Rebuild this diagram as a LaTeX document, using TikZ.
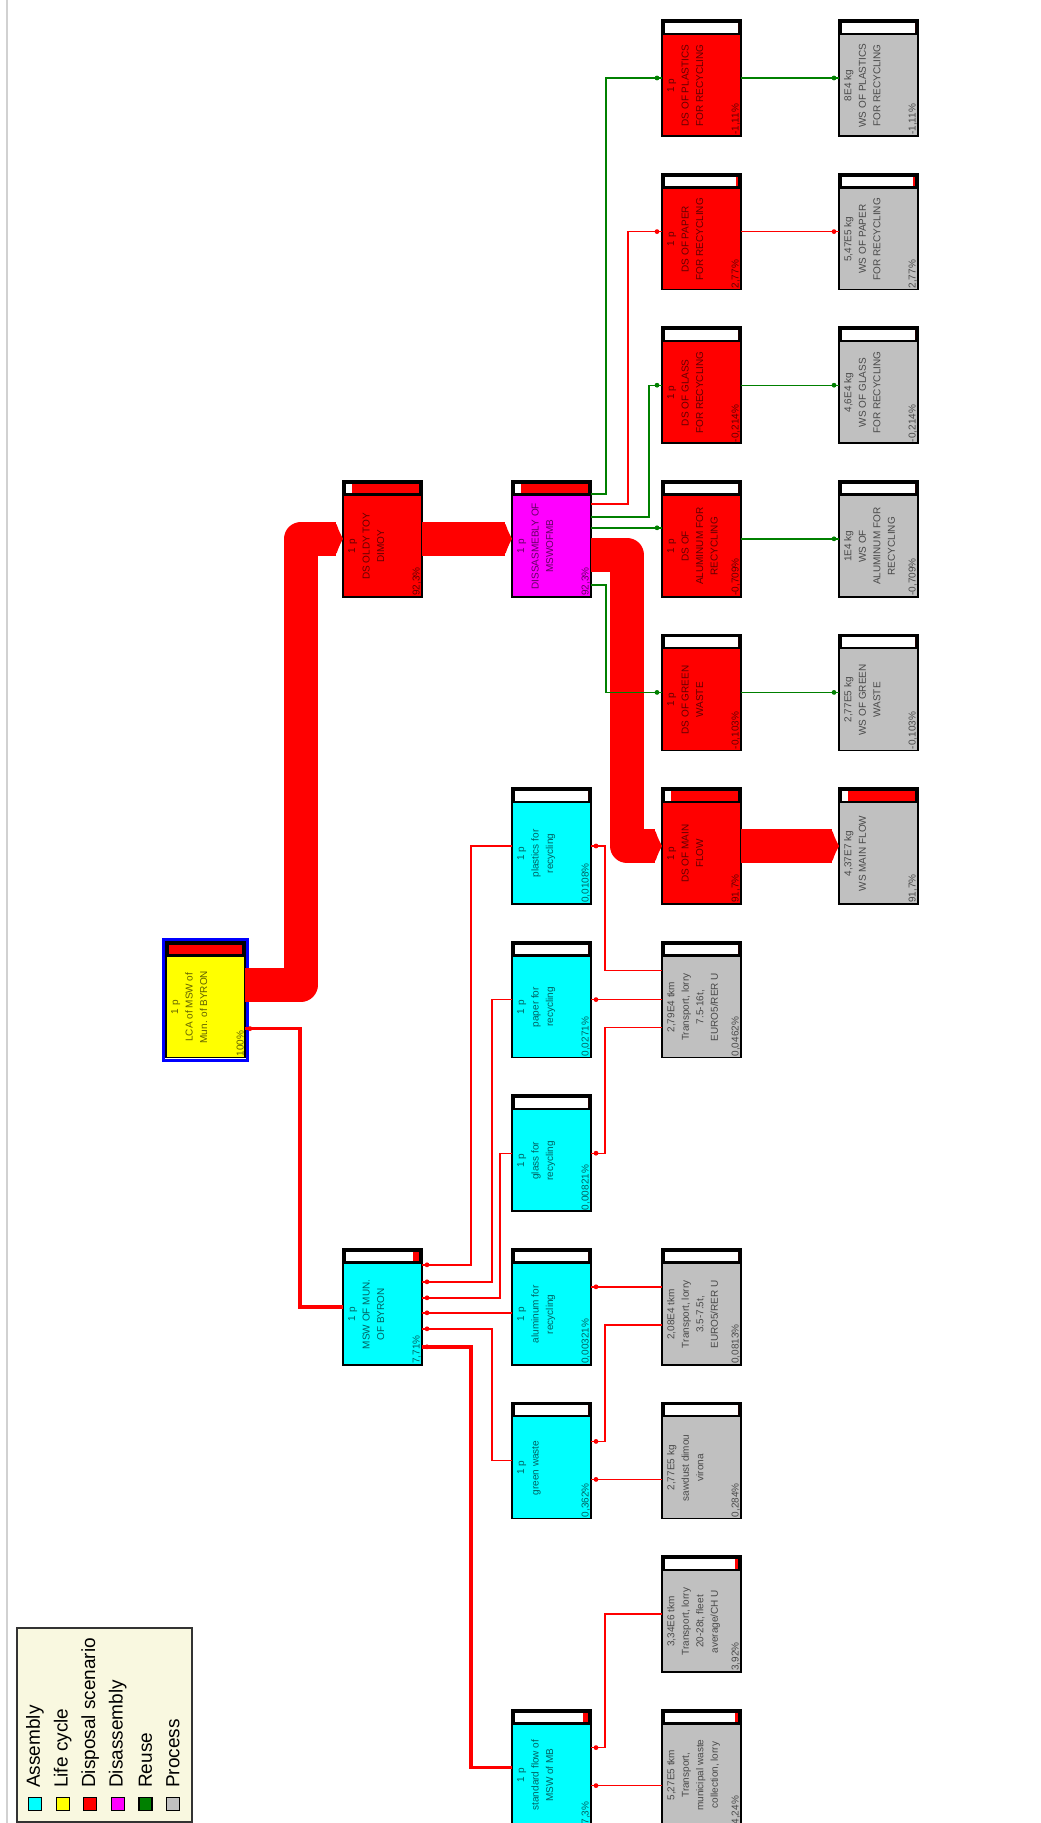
\documentclass[tikz,border=0pt]{standalone}
\usepackage{fontspec}
\setmainfont{Liberation Sans}
\usetikzlibrary{calc,arrows.meta,decorations.markings}

\definecolor{asmcyan}{RGB}{0,255,255}
\definecolor{lcyellow}{RGB}{255,255,0}
\definecolor{dsred}{RGB}{255,0,0}
\definecolor{dismag}{RGB}{255,0,255}
\definecolor{reusegreen}{RGB}{0,128,0}
\definecolor{procgray}{RGB}{192,192,192}
\definecolor{keybg}{RGB}{249,248,224}

\tikzset{
  unitbox/.style={draw=black, line width=1.5pt, minimum width=79pt, minimum height=116pt,
    inner sep=0pt, outer sep=0pt, anchor=north west},
  boxlabel/.style={rotate=90, inner sep=0pt, align=center, text=black, text opacity=0.62,
    font=\fontsize{10}{14.5}\selectfont},
  link/.style={line width=1.4pt, color=dsred,
    postaction={decorate, decoration={markings, mark=at position -5pt with {\fill circle (2.4pt);}}}},
  heavylink/.style={link, line width=3.5pt},
  reuse/.style={link, color=reusegreen},
  flow/.style={line width=34pt, color=dsred, line join=round, -{Latex[length=8pt,width=41pt,round]}},
  keysq/.style={draw=black, line width=1.2pt, minimum size=13pt, inner sep=0pt},
  keytext/.style={rotate=90, anchor=west, inner sep=0pt, font=\fontsize{19}{21}\selectfont}
}

% name, top left, fill, share of the bar, text, percentage
\newcommand{\procbox}[6]{%
  \node[unitbox, fill=#3] (#1) at (#2) {};
  \fill[black] (#1.north west) rectangle ($(#1.north east)+(0,15)$);
  \fill[white] ($(#1.north west)+(3,3)$) rectangle ($(#1.north east)+(-3,12.5)$);
  \fill[dsred] ($(#1.north east)+({-3-73*#4},3)$) rectangle ($(#1.north east)+(-3,12.5)$);
  \node[boxlabel, anchor=north] (#1-txt) at ($(#1.west)+(5,7.5)$) {#5};
  \node[boxlabel, anchor=south west] (#1-pct) at ($(#1.south east)+(-1,-1)$) {#6};
}

\begin{document}
\begin{tikzpicture}[x=1pt,y=-1pt]
  \fill[white] (0,0) rectangle (1041,1823);
  \useasboundingbox (0,0) rectangle (1041,1823);
  \draw[black!18, line width=1.5pt] (7,0) -- (7,1823);

  % disposal side
  \procbox{dsplast}{662,20}{dsred}{0}{1 p\\DS OF PLASTICS\\FOR RECYCLING}{-1,11\%}
  \procbox{wsplast}{839,20}{procgray}{0}{8E4 kg\\WS OF PLASTICS\\FOR RECYCLING}{-1,11\%}
  \procbox{dspaper}{662,173.6}{dsred}{0.028}{1 p\\DS OF PAPER\\FOR RECYCLING}{2,77\%}
  \procbox{wspaper}{839,173.6}{procgray}{0.028}{5,47E5 kg\\WS OF PAPER\\FOR RECYCLING}{2,77\%}
  \procbox{dsglass}{662,327.2}{dsred}{0}{1 p\\DS OF GLASS\\FOR RECYCLING}{-0,214\%}
  \procbox{wsglass}{839,327.2}{procgray}{0}{4,6E4 kg\\WS OF GLASS\\FOR RECYCLING}{-0,214\%}
  \procbox{oldy}{343,480.8}{dsred}{0.923}{1 p\\DS OLDY TOY\\DIMOY}{92,3\%}
  \procbox{dis}{512,480.8}{dismag}{0.923}{1 p\\DISSASMEBLY OF\\MSWOFMB}{92,3\%}
  \procbox{dsalu}{662,480.8}{dsred}{0}{1 p\\DS OF\\ALUMINUM FOR\\RECYCLING}{-0,709\%}
  \procbox{wsalu}{839,480.8}{procgray}{0}{1E4 kg\\WS OF\\ALUMINUM FOR\\RECYCLING}{-0,709\%}
  \procbox{dsgreen}{662,634.4}{dsred}{0}{1 p\\DS OF GREEN\\WASTE}{-0,103\%}
  \procbox{wsgreen}{839,634.4}{procgray}{0}{2,77E5 kg\\WS OF GREEN\\WASTE}{-0,103\%}
  \procbox{dsmain}{662,788}{dsred}{0.917}{1 p\\DS OF MAIN\\FLOW}{91,7\%}
  \procbox{wsmain}{839,788}{procgray}{0.917}{4,37E7 kg\\WS MAIN FLOW}{91,7\%}

  % assembly side
  \procbox{lca}{166,941.6}{lcyellow}{1}{1 p\\LCA of MSW of\\Mun. of BYRON}{100\%}
  \draw[blue, line width=3pt] ($(lca.north west)+(-2.5,-2.5)$) rectangle ($(lca.south east)+(2.5,2.5)$);
  \procbox{plast}{512,788}{asmcyan}{0}{1 p\\plastics for\\recycling}{0,0108\%}
  \procbox{paper}{512,941.6}{asmcyan}{0}{1 p\\paper for\\recycling}{0,0271\%}
  \procbox{trA}{662,941.6}{procgray}{0}{2,79E4 tkm\\Transport, lorry\\7.5-16t,\\EURO5/RER U}{0,0462\%}
  \procbox{glass}{512,1095.2}{asmcyan}{0}{1 p\\glass for\\recycling}{0,00821\%}
  \procbox{msw}{343,1248.8}{asmcyan}{0.077}{1 p\\MSW OF MUN.\\OF BYRON}{7,71\%}
  \procbox{alu}{512,1248.8}{asmcyan}{0}{1 p\\aluminum for\\recycling}{0,00321\%}
  \procbox{trB}{662,1248.8}{procgray}{0}{2,08E4 tkm\\Transport, lorry\\3.5-7.5t,\\EURO5/RER U}{0,0813\%}
  \procbox{green}{512,1402.4}{asmcyan}{0}{1 p\\green waste}{0,362\%}
  \procbox{sawdust}{662,1402.4}{procgray}{0}{2,77E5 kg\\sawdust dimou\\virona}{0,284\%}
  \procbox{trC}{662,1556}{procgray}{0.039}{3,34E6 tkm\\Transport, lorry\\20-28t, fleet\\average/CH U}{3,92\%}
  \procbox{stdflow}{512,1709.6}{asmcyan}{0.073}{1 p\\standard flow of\\MSW of MB}{7,3\%}
  \procbox{trD}{662,1709.6}{procgray}{0.042}{5,27E5 tkm\\Transport,\\municipal waste\\collection, lorry}{4,24\%}

  % main disposal flow
  \draw[flow] ($(lca.north east)+(0,43)$) -| ($(oldy.west)+(-42,0)$) -- (oldy.west);
  \draw[flow] (oldy.east) -- (dis.west);
  \draw[flow] ($(dis.north east)+(0,74)$) -| ($(dsmain.west)+(-35,0)$) -- (dsmain.west);
  \draw[flow] (dsmain.east) -- (wsmain.west);

  % separated fractions
  \draw[reuse] ($(dis.north east)+(0,13)$) -| ($(dsplast.west)+(-56,0)$) -- (dsplast.west);
  \draw[link] ($(dis.north east)+(0,23)$) -| ($(dspaper.west)+(-34,0)$) -- (dspaper.west);
  \draw[reuse] ($(dis.north east)+(0,36)$) -| ($(dsglass.west)+(-13,0)$) -- (dsglass.west);
  \draw[reuse] ($(dis.north east)+(0,47)$) -- ($(dsalu.north west)+(0,47)$);
  \draw[reuse] ($(dis.north east)+(0,104)$) -| ($(dsgreen.west)+(-56,0)$) -- (dsgreen.west);
  \draw[reuse] (dsplast.east) -- (wsplast.west);
  \draw[link] (dspaper.east) -- (wspaper.west);
  \draw[reuse] (dsglass.east) -- (wsglass.west);
  \draw[reuse] (dsalu.east) -- (wsalu.west);
  \draw[reuse] (dsgreen.east) -- (wsgreen.west);

  % assembly links
  \draw[heavylink] (msw.west) -| ($(lca.north east)+(55,87)$) -- ($(lca.north east)+(0,87)$);
  \draw[link] (plast.west) -| ($(msw.north east)+(49,16)$) -- ($(msw.north east)+(0,16)$);
  \draw[link] (paper.west) -| ($(msw.north east)+(70,33)$) -- ($(msw.north east)+(0,33)$);
  \draw[link] (glass.west) -| ($(msw.north east)+(78,49)$) -- ($(msw.north east)+(0,49)$);
  \draw[link] ($(alu.north west)+(0,64)$) -- ($(msw.north east)+(0,64)$);
  \draw[link] (green.west) -| ($(msw.north east)+(70,80)$) -- ($(msw.north east)+(0,80)$);
  \draw[heavylink] (stdflow.west) -| ($(msw.north east)+(49,98)$) -- ($(msw.north east)+(0,98)$);

  % transport
  \draw[link] ($(trA.north west)+(0,29)$) -| ($(plast.east)+(14,0)$) -- (plast.east);
  \draw[link] (trA.west) -- (paper.east);
  \draw[link] ($(trA.north west)+(0,86)$) -| ($(glass.east)+(14,0)$) -- (glass.east);
  \draw[link] ($(trB.north west)+(0,38)$) -- ($(alu.north east)+(0,38)$);
  \draw[link] ($(trB.north west)+(0,76)$) -| ($(green.north east)+(14,39)$) -- ($(green.north east)+(0,39)$);
  \draw[link] ($(sawdust.north west)+(0,77)$) -- ($(green.north east)+(0,77)$);
  \draw[link] (trC.west) -| ($(stdflow.north east)+(14,38)$) -- ($(stdflow.north east)+(0,38)$);
  \draw[link] ($(trD.north west)+(0,76)$) -- ($(stdflow.north east)+(0,76)$);

  % legend
  \draw[fill=keybg, draw=black!80, line width=1.5pt] (17,1628) rectangle (192,1822);
  \foreach \lbl/\col [count=\i from 0] in {Assembly/asmcyan, Life cycle/lcyellow,
      Disposal scenario/dsred, Disassembly/dismag, Reuse/reusegreen, Process/procgray} {
    \node[keysq, fill=\col] (key\i) at (35+27.6*\i,1804) {};
    \node[keytext] (keytxt\i) at (35+27.6*\i,1788) {\lbl};
  }
\end{tikzpicture}
\end{document}
